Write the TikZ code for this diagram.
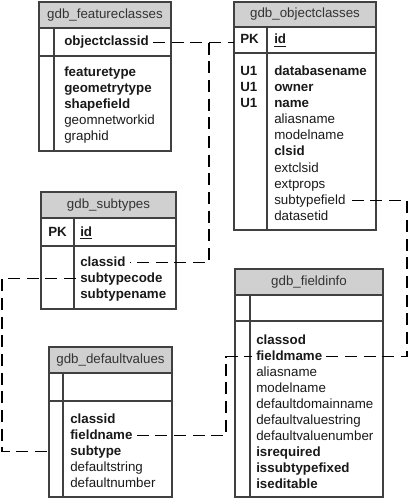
\documentclass[tikz,border=0pt]{standalone}
\usepackage{fontspec}
\setmainfont{Liberation Sans}
\definecolor{hdrgray}{HTML}{D0D0D0}
\definecolor{linegray}{HTML}{404040}
\tikzset{
  hdr/.style={fill=hdrgray, draw=linegray, line width=0.8pt},
  tbl/.style={draw=linegray, line width=0.8pt},
  ttl/.style={inner sep=0pt, text height=7pt, text depth=2pt, text=black!80, font=\fontsize{10}{12}\selectfont},
  fldb/.style={anchor=base west, inner sep=3pt, text height=7pt, text depth=2pt, text=black!90, font=\fontsize{10}{12}\selectfont\bfseries},
  fldn/.style={fldb, font=\fontsize{10}{12}\selectfont},
  rel/.style={line width=1pt, dash pattern=on 9pt off 5pt}
}
\begin{document}
\begin{tikzpicture}[x=0.75pt,y=-0.75pt]
        \useasboundingbox (0,0) rectangle (413,499);

        % gdb_featureclasses
        \coordinate (fc-nw) at (39,2);
        \draw[hdr] (39,2) rectangle (171,28);
        \draw[tbl] (39,28) rectangle (171,151);
        \draw[tbl] (39,56) -- (171,56);
        \draw[tbl] (54,28) -- (54,151);
        \node[ttl] (fc) at (105,15) {gdb\_featureclasses};
        \node[fldb] (fc-oid) at (60,46) {objectclassid};
        \node[fldb] (fc-ftype) at (60,77) {featuretype};
        \node[fldb] (fc-gtype) at (60,93) {geometrytype};
        \node[fldb] (fc-shape) at (60,109) {shapefield};
        \node[fldn] (fc-geom) at (60,125) {geomnetworkid};
        \node[fldn] (fc-graph) at (60,141) {graphid};

        % gdb_objectclasses
        \coordinate (oc-nw) at (234,2);
        \draw[hdr] (234,2) rectangle (376,27);
        \draw[tbl] (234,27) rectangle (376,230);
        \draw[tbl] (234,53) -- (376,53);
        \draw[tbl] (267,27) -- (267,230);
        \node[ttl] (oc) at (305,14.5) {gdb\_objectclasses};
        \node[fldb] (oc-pk) at (236,44) {PK};
        \node[fldb] (oc-id) at (270,44) {\underline{id}};
        \node[fldb] (oc-u1a) at (236,76) {U1};
        \node[fldb] (oc-u1b) at (236,92) {U1};
        \node[fldb] (oc-u1c) at (236,108) {U1};
        \node[fldb] (oc-db) at (270,76) {databasename};
        \node[fldb] (oc-owner) at (270,92) {owner};
        \node[fldb] (oc-name) at (270,108) {name};
        \node[fldn] (oc-alias) at (270,124) {aliasname};
        \node[fldn] (oc-model) at (270,140) {modelname};
        \node[fldb] (oc-clsid) at (270,156) {clsid};
        \node[fldn] (oc-ext) at (270,172) {extclsid};
        \node[fldn] (oc-props) at (270,188) {extprops};
        \node[fldn] (oc-stf) at (270,204) {subtypefield};
        \node[fldn] (oc-ds) at (270,220) {datasetid};

        % gdb_subtypes
        \coordinate (st-nw) at (41,192);
        \draw[hdr] (41,192) rectangle (176,218);
        \draw[tbl] (41,218) rectangle (176,309);
        \draw[tbl] (41,246) -- (176,246);
        \draw[tbl] (74,218) -- (74,309);
        \node[ttl] (st) at (108.5,205) {gdb\_subtypes};
        \node[fldb] (st-pk) at (44,236) {PK};
        \node[fldb] (st-id) at (76,236) {\underline{id}};
        \node[fldb] (st-cid) at (76,266) {classid};
        \node[fldb] (st-code) at (76,282) {subtypecode};
        \node[fldb] (st-name) at (76,298) {subtypename};

        % gdb_defaultvalues
        \coordinate (dv-nw) at (49,347);
        \draw[hdr] (49,347) rectangle (172,373);
        \draw[tbl] (49,373) rectangle (172,497);
        \draw[tbl] (49,401) -- (172,401);
        \draw[tbl] (63,373) -- (63,497);
        \node[ttl] (dv) at (110.5,360) {gdb\_defaultvalues};
        \node[fldb] (dv-cid) at (66,423) {classid};
        \node[fldb] (dv-fn) at (66,439) {fieldname};
        \node[fldb] (dv-sub) at (66,455) {subtype};
        \node[fldn] (dv-str) at (66,471) {defaultstring};
        \node[fldn] (dv-num) at (66,487) {defaultnumber};

        % gdb_fieldinfo
        \coordinate (fi-nw) at (235,269);
        \draw[hdr] (235,269) rectangle (383,295);
        \draw[tbl] (235,295) rectangle (383,497);
        \draw[tbl] (235,321) -- (383,321);
        \draw[tbl] (250,295) -- (250,497);
        \node[ttl] (fi) at (309,282) {gdb\_fieldinfo};
        \node[fldb] (fi-cid) at (252,344) {classod};
        \node[fldb] (fi-fn) at (252,360) {fieldmame};
        \node[fldn] (fi-alias) at (252,376) {aliasname};
        \node[fldn] (fi-model) at (252,392) {modelname};
        \node[fldn] (fi-dom) at (252,408) {defaultdomainname};
        \node[fldn] (fi-vstr) at (252,424) {defaultvaluestring};
        \node[fldn] (fi-vnum) at (252,440) {defaultvaluenumber};
        \node[fldb] (fi-req) at (252,456) {isrequired};
        \node[fldb] (fi-fix) at (252,472) {issubtypefixed};
        \node[fldb] (fi-edit) at (252,488) {iseditable};

        % relations
        \coordinate (j1) at (209,0);
        \coordinate (j2) at (2,0);
        \coordinate (j3) at (226,0);
        \coordinate (j4) at (407,0);
        \draw[rel] (fc-oid.east) -- (fc-oid.east -| j1) |- (st-cid.east);
        \draw[rel] (fc-oid.east -| j1) -- (fc-oid.east -| oc-nw);
        \draw[rel] (st-code.west) -- (st-code.west -| j2) |- (dv-sub.west -| dv-nw);
        \draw[rel] (dv-fn.east) -- (dv-fn.east -| j3) |- (fi-fn.west);
        \draw[rel] (fi-fn.east) -- (fi-fn.east -| j4) |- (oc-stf.east);
    \end{tikzpicture}
\end{document}
